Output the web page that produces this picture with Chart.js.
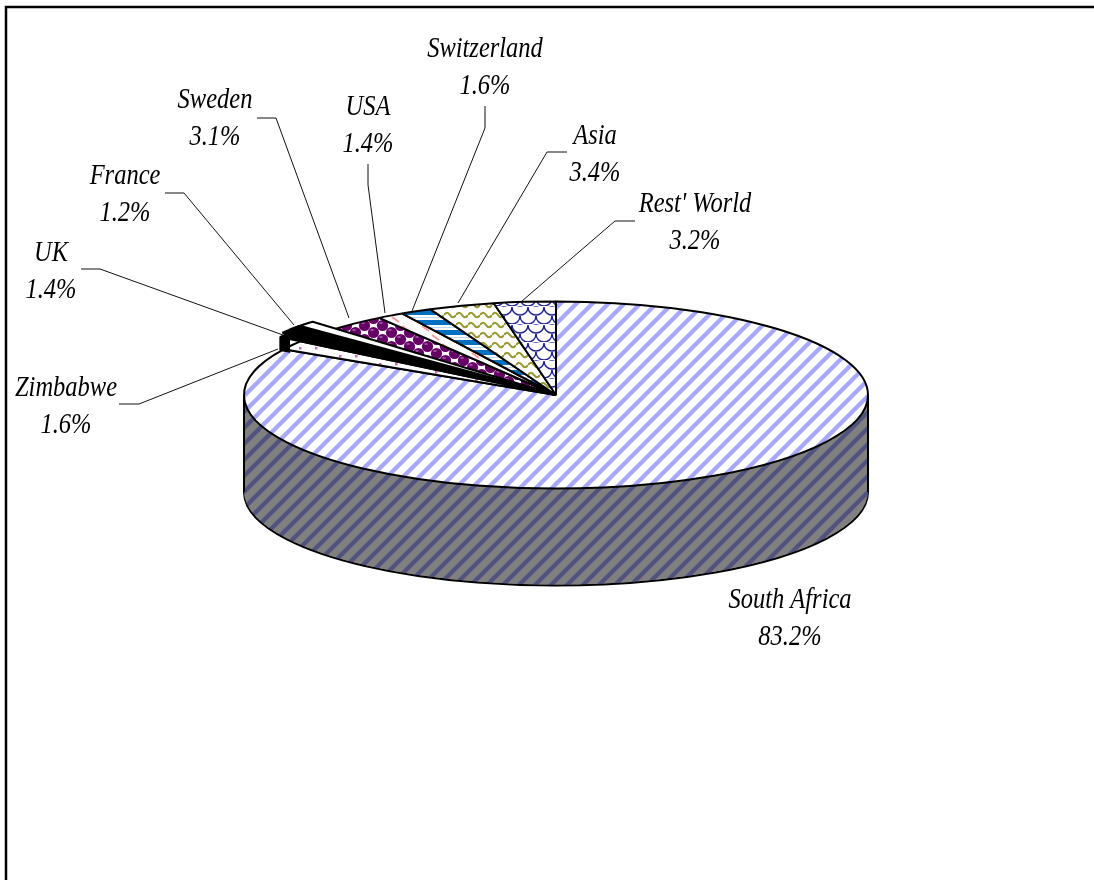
<!DOCTYPE html>
<html>
<head>
<meta charset="utf-8">
<title>Pie</title>
<script src="https://cdn.jsdelivr.net/npm/chart.js@4"></script>
<style>
  html, body { margin: 0; padding: 0; background: #fff; }
  canvas { display: block; }
</style>
</head>
<body>
<canvas id="pieChart" width="1094" height="880"></canvas>
<script>
const categories = ['South Africa', 'Zimbabwe', 'UK', 'France', 'Sweden', 'USA', 'Switzerland', 'Asia', "Rest' World"];
const shares = [83.2, 1.6, 1.4, 1.2, 3.1, 1.4, 1.6, 3.4, 3.2];

// label baseline (centre x, first line y) per category
const labelAnchors = [[790, 608], [66, 396], [51, 261], [125, 184], [215, 108], [368, 115], [485, 57], [595, 144], [695, 212]];
// leader lines per category, South Africa has none
const leaders = [
    null,
    [[119, 404], [139, 404], [278, 349]],
    [[81, 269], [100, 269], [283, 335]],
    [[165, 193], [184, 193], [294, 325]],
    [[257, 118], [276, 118], [349, 318]],
    [[368, 164], [368, 185], [385, 313]],
    [[485, 106], [485, 128], [412, 311]],
    [[567, 152], [547, 152], [458, 303]],
    [[635, 221], [615, 221], [522, 301]]
];

const SQUASH = 0.30;   // top face of the pie is seen at an angle
const DEPTH = 97;

function tile(w, h, draw) {
    const c = document.createElement('canvas');
    c.width = w;
    c.height = h;
    const g = c.getContext('2d');
    draw(g);
    return g.createPattern(c, 'repeat');
}

function stripes(bg, fg) {
    return tile(16, 16, g => {
        g.fillStyle = bg;
        g.fillRect(0, 0, 16, 16);
        g.strokeStyle = fg;
        g.lineWidth = 4.4;
        for (let i = -16; i <= 48; i += 16) {
            g.beginPath();
            g.moveTo(i - 32, 32);
            g.lineTo(i + 32, -32);
            g.stroke();
        }
    });
}

const southAfricaFill = stripes('#ffffff', '#a8a8fb');
const southAfricaSide = stripes('#808080', '#52527f');

const zimbabweFill = tile(32, 16, g => {
    g.fillStyle = '#fff';
    g.fillRect(0, 0, 32, 16);
    g.fillStyle = '#d070a0';
    [[3, 3], [19, 3], [11, 11], [27, 11]].forEach(p => g.fillRect(p[0], p[1], 2.5, 2.5));
});

const swedenFill = tile(18, 14, g => {
    g.fillStyle = '#fff';
    g.fillRect(0, 0, 18, 14);
    [[4.5, 3.5], [13.5, 10.5], [-4.5, 10.5], [22.5, 3.5], [4.5, 17.5], [13.5, -3.5]].forEach(p => {
        g.fillStyle = '#660066';
        g.beginPath();
        g.arc(p[0], p[1], 5.6, 0, Math.PI * 2);
        g.fill();
        g.fillStyle = '#c8a0c8';
        g.fillRect(p[0] - 3, p[1] - 3, 3, 1);
    });
});

const usaFill = tile(20, 18, g => {
    g.fillStyle = '#fff';
    g.fillRect(0, 0, 20, 18);
    g.strokeStyle = '#ff9999';
    g.lineWidth = 2;
    g.beginPath();
    g.moveTo(2, 2);
    g.lineTo(9, 7);
    g.moveTo(12, 11);
    g.lineTo(19, 16);
    g.stroke();
});

const switzerlandFill = tile(4, 10, g => {
    g.fillStyle = '#fff';
    g.fillRect(0, 0, 4, 10);
    g.fillStyle = '#0070c0';
    g.fillRect(0, 0, 4, 5);
    g.fillStyle = '#b8d8f0';
    g.fillRect(0, 7, 4, 1);
});

const asiaFill = tile(12, 10, g => {
    g.fillStyle = '#fff';
    g.fillRect(0, 0, 12, 10);
    g.strokeStyle = '#999933';
    g.lineWidth = 2.2;
    g.beginPath();
    g.moveTo(0, 5);
    g.quadraticCurveTo(3, 0.5, 6, 5);
    g.quadraticCurveTo(9, 9.5, 12, 5);
    g.stroke();
});

const restFill = tile(16, 18, g => {
    g.fillStyle = '#fff';
    g.fillRect(0, 0, 16, 18);
    g.strokeStyle = '#1f1f8f';
    g.lineWidth = 1.4;
    [[8, 1], [0, 10], [16, 10], [8, -8], [8, 19]].forEach(p => {
        g.beginPath();
        g.arc(p[0], p[1], 8, 0, Math.PI);
        g.stroke();
    });
});

const sliceFills = [southAfricaFill, zimbabweFill, '#000000', '#ffffff', swedenFill, usaFill, switzerlandFill, asiaFill, restFill];

// draw one arc element through the squashed transform. fill and stroke run in
// device space so the hatching and the outline keep their real pixel size
function drawSlice(ctx, el, o) {
    const opts = o || {};
    const grow = opts.grow || 1;
    ctx.save();
    ctx.translate(el.x, el.y + (opts.dy || 0));
    ctx.transform(1, opts.tilt || 0, 0, 1, 0, 0);
    ctx.scale(grow, grow * SQUASH);
    ctx.translate(-el.x, -el.y);
    const fill = CanvasRenderingContext2D.prototype.fill;
    const stroke = CanvasRenderingContext2D.prototype.stroke;
    ctx.fill = function() {
        ctx.save();
        ctx.setTransform(1, 0, 0, 1, 0, 0);
        if (opts.fill) ctx.fillStyle = opts.fill;
        fill.call(ctx);
        ctx.restore();
    };
    ctx.stroke = function() {
        if (opts.noStroke) return;
        ctx.save();
        ctx.setTransform(1, 0, 0, 1, 0, 0);
        stroke.call(ctx);
        ctx.restore();
    };
    el.draw(ctx);
    delete ctx.fill;
    delete ctx.stroke;
    ctx.restore();
}

const pie3d = {
    id: 'pie3d',
    beforeDatasetsDraw(chart) {
        const ctx = chart.ctx;
        const arcs = chart.getDatasetMeta(0).data;
        const main = arcs[0];
        const r = main.outerRadius;

        // side wall, only the front slice shows
        drawSlice(ctx, main, { dy: DEPTH, fill: southAfricaSide });
        for (let d = DEPTH - 1; d > 0; d--) {
            drawSlice(ctx, main, { dy: d, fill: southAfricaSide, noStroke: true });
        }
        ctx.strokeStyle = '#000';
        ctx.lineWidth = 2;
        ctx.beginPath();
        ctx.moveTo(main.x - r, main.y);
        ctx.lineTo(main.x - r, main.y + DEPTH);
        ctx.moveTo(main.x + r, main.y);
        ctx.lineTo(main.x + r, main.y + DEPTH);
        ctx.stroke();

        [0, 1, 4, 5, 6, 7, 8].forEach(i => drawSlice(ctx, arcs[i]));

        // France and UK stick out past the rim, with a stub of wall at the end
        drawSlice(ctx, arcs[3], { grow: 1.12, tilt: -8 / 260, fill: '#808080' });
        for (let t = 7; t > 0; t--) {
            drawSlice(ctx, arcs[3], { grow: 1.12, tilt: -t / 260, fill: '#808080', noStroke: true });
        }
        drawSlice(ctx, arcs[3], { grow: 1.09, tilt: 0.008 });
        ctx.save();
        ctx.beginPath();
        ctx.rect(270, 320, 20, 40);
        ctx.clip();
        for (let t = 13; t > 0; t--) {
            drawSlice(ctx, arcs[2], { grow: 1.08, tilt: -t / 278, fill: '#000000' });
        }
        ctx.restore();
        drawSlice(ctx, arcs[2], { grow: 1.08 });
        drawSlice(ctx, arcs[2], { grow: 1.07, tilt: 0.018 });
        return false;
    },
    afterDraw(chart) {
        const ctx = chart.ctx;
        ctx.save();

        // frame, open at the bottom and right like the reference
        ctx.strokeStyle = '#000';
        ctx.lineWidth = 2.5;
        ctx.beginPath();
        ctx.moveTo(6, 880);
        ctx.lineTo(6, 7);
        ctx.lineTo(1094, 7);
        ctx.stroke();

        ctx.lineWidth = 1;
        ctx.strokeStyle = '#111';
        leaders.forEach(line => {
            if (!line) return;
            ctx.beginPath();
            line.forEach((p, i) => i ? ctx.lineTo(p[0], p[1]) : ctx.moveTo(p[0], p[1]));
            ctx.stroke();
        });

        ctx.fillStyle = '#000';
        ctx.font = 'italic 24.5px "Liberation Serif"';
        ctx.textAlign = 'center';
        ctx.textBaseline = 'alphabetic';
        categories.forEach((name, i) => {
            const [x, y] = labelAnchors[i];
            [name, shares[i].toFixed(1) + '%'].forEach((text, k) => {
                ctx.save();
                ctx.translate(x, y + k * 37);
                ctx.scale(1, 1.17);
                ctx.fillText(text, 0, 0);
                ctx.restore();
            });
        });
        ctx.restore();
    }
};

new Chart(document.getElementById('pieChart').getContext('2d'), {
    type: 'pie',
    data: {
        labels: categories,
        datasets: [{
            data: shares,
            backgroundColor: sliceFills,
            borderColor: '#000000',
            borderWidth: 2
        }]
    },
    options: {
        responsive: false,
        devicePixelRatio: 1,
        animation: false,
        layout: { padding: { left: 243, right: 225, top: 0, bottom: 90 } },
        plugins: {
            legend: { display: false },
            tooltip: { enabled: false }
        }
    },
    plugins: [pie3d]
});
</script>
</body>
</html>
